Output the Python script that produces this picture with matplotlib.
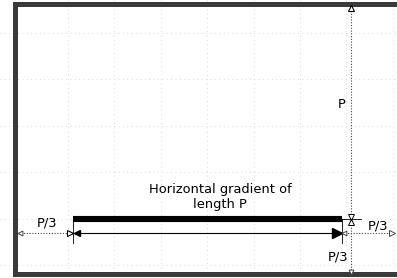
import numpy as np
import matplotlib
matplotlib.use("Agg")
import matplotlib.pyplot as plt

# diagram geometry, in picture units (x right, y down)
frame_x = [15, 15, 420]
frame_y = [273.5, 4, 4]
frame_bottom_x = [15, 420]
frame_bottom_y = [273.5, 273.5]

grid_x = [68, 114.4, 160.8, 207.2, 253.6, 300, 346.4, 392.8]
grid_y = [33, 79.4, 125.8, 172.2, 218.6, 265]

bar_x = [73, 342]        # horizontal gradient of length P
bar_y = 219
dim_y = 233              # dimension line under the bar
vline_x = 351            # vertical dimension line
vline_y = [5, 272]
left_dim_x = [18, 73]
right_dim_x = [342, 393]

labels = ["P", "Horizontal gradient of\nlength P", "P/3", "P/3", "P/3"]
label_x = [342, 220, 47, 378, 338]
label_y = [105, 197, 223, 226, 257]

fig = plt.figure(figsize=(3.97, 2.78), dpi=100)
ax = fig.add_axes([0, 0, 1, 1])
ax.set_xlim(0, 397)
ax.set_ylim(278, 0)
ax.axis("off")

# dotted background grid
for gx in grid_x:
    ax.plot([gx, gx], [0, 278], color="#dadada", lw=0.7, ls=(0, (1, 3.5)), zorder=0)
for gy in grid_y:
    ax.plot([0, 397], [gy, gy], color="#dadada", lw=0.7, ls=(0, (1, 3.5)), zorder=0)

# frame
ax.plot(frame_x, frame_y, color="#3a3a3a", lw=3.6, solid_joinstyle="miter", zorder=3)
ax.plot(frame_bottom_x, frame_bottom_y, color="#3a3a3a", lw=3.6, zorder=3)

# gradient bar
ax.plot(bar_x, [bar_y, bar_y], color="black", lw=4.4, solid_capstyle="butt", zorder=4)

# extension ticks at bar ends
for bx in bar_x:
    ax.plot([bx, bx], [bar_y, dim_y + 10], color="black", lw=0.6, zorder=4)
ax.plot([bar_x[1], vline_x + 10], [bar_y, bar_y], color="black", lw=0.6, zorder=4)

# length P dimension
ax.plot(bar_x, [dim_y, dim_y], color="black", lw=0.8, zorder=4)
ax.plot(bar_x[0] + 3.5, dim_y, marker="<", ms=5, color="black", zorder=5)
ax.plot(bar_x[1] - 5, dim_y, marker=">", ms=7, color="black", zorder=5)

# P/3 dotted dimensions
dot = (0, (1, 1.5))
ax.plot(left_dim_x, [dim_y, dim_y], color="#444444", lw=0.8, ls=dot, zorder=4)
ax.plot(left_dim_x[0] + 1.5, dim_y, marker="<", ms=3.5, mfc="white", mec="#444444", mew=0.7, zorder=5)
ax.plot(left_dim_x[1] - 3.5, dim_y, marker=">", ms=5, mfc="white", mec="black", mew=0.8, zorder=5)

ax.plot(right_dim_x, [dim_y, dim_y], color="#444444", lw=0.8, ls=dot, zorder=4)
ax.plot(right_dim_x[0] + 2, dim_y, marker="<", ms=3.5, mfc="white", mec="#444444", mew=0.7, zorder=5)
ax.plot(right_dim_x[1] - 1.5, dim_y, marker=">", ms=4.5, mfc="white", mec="#444444", mew=0.7, zorder=5)

ax.plot([vline_x, vline_x], vline_y, color="#444444", lw=0.8, ls=dot, zorder=4)
ax.plot(vline_x, vline_y[0] + 3, marker="^", ms=5, mfc="white", mec="black", mew=0.8, zorder=5)
ax.plot(vline_x, vline_y[1] - 0.5, marker="v", ms=3.5, mfc="white", mec="#444444", mew=0.7, zorder=5)
ax.plot(vline_x, bar_y - 2.5, marker="v", ms=4.5, mfc="white", mec="black", mew=0.7, zorder=5)
ax.plot(vline_x, bar_y + 2.5, marker="^", ms=4.5, mfc="white", mec="black", mew=0.7, zorder=5)

for t, lx, ly in zip(labels, label_x, label_y):
    ax.text(lx, ly, t, ha="center", va="center", fontsize=9.4, color="black",
            linespacing=1.25, zorder=6)

fig.savefig("out.png", dpi=100)
